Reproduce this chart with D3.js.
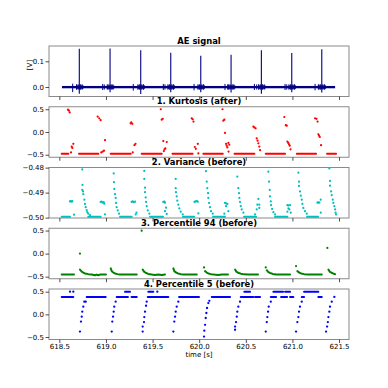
<!DOCTYPE html>
<html>
<head>
<meta charset="utf-8">
<script src="https://cdn.jsdelivr.net/npm/d3@7"></script>
<style>
body { margin: 0; background: #fff; }
</style>
</head>
<body>
<div id="chart"></div>
<script>
// ---- data ----
var timeTicks = [618.5, 619.0, 619.5, 620.0, 620.5, 621.0, 621.5];
var titles = ["AE signal", "1. Kurtosis (after)", "2. Variance (before)", "3. Percentile 94 (before)", "4. Percentile 5 (before)"];

// AE signal: baseline span, spikes, small pre-burst ticks
var aeSpan = [618.528, 621.458];
var spikeTimes = [618.714, 619.044, 619.373, 619.695, 620.017, 620.342, 620.667, 620.993, 621.315];
var spikePeaks = [0.149, 0.150, 0.143, 0.133, 0.122, 0.125, 0.143, 0.132, 0.147];
var spikeTroughs = [-0.026, -0.020, -0.027, -0.020, -0.020, -0.021, -0.026, -0.020, -0.021];
var preTicks = [[618.643, -0.020, 0.013], [618.965, -0.012, 0.012], [618.982, -0.010, 0.010],
    [619.293, -0.014, 0.012], [619.615, -0.012, 0.012], [619.633, -0.010, 0.010],
    [619.945, -0.013, 0.012], [620.277, -0.012, 0.012], [620.306, -0.010, 0.010],
    [620.592, -0.012, 0.012], [620.617, -0.010, 0.010], [620.921, -0.012, 0.012],
    [620.939, -0.010, 0.010], [621.243, -0.013, 0.012], [621.278, -0.010, 0.010]];
var burstTickOffsets = [-0.03, -0.012, 0.012, 0.03];

// 1. Kurtosis
var kurtLevel = -0.48;
var kurtRuns = [[618.525, 618.596], [618.711, 618.918], [619.051, 619.265], [619.383, 619.598],
    [619.714, 619.929], [620.044, 620.253], [620.379, 620.592], [620.714, 620.921],
    [621.047, 621.254], [621.372, 621.468]];
var kurtPoints = [
    [618.592, 0.49], [618.603, 0.47], [618.611, 0.43], [618.625, -0.45], [618.632, -0.32], [618.639, -0.35], [618.650, -0.26],
    [618.911, 0.34], [618.928, 0.30], [618.943, 0.26], [618.950, -0.45], [618.965, -0.43], [618.979, -0.41], [618.990, -0.18],
    [619.265, 0.19], [619.272, 0.21], [619.283, 0.18], [619.287, -0.45], [619.306, -0.29], [619.317, -0.26],
    [619.588, 0.50], [619.598, 0.27], [619.609, 0.29], [619.615, -0.20], [619.621, -0.42], [619.628, -0.38], [619.637, -0.36], [619.652, -0.22],
    [619.920, 0.30], [619.931, 0.28], [619.939, 0.23], [619.953, -0.33], [619.964, -0.37], [619.985, -0.26], [619.991, -0.47],
    [620.250, 0.50], [620.259, 0.25], [620.270, 0.27], [620.277, -0.02], [620.288, -0.26], [620.295, -0.30], [620.302, -0.34], [620.313, -0.24], [620.315, -0.43], [620.323, -0.28],
    [620.581, 0.12], [620.592, 0.10], [620.605, 0.08], [620.617, -0.14], [620.626, -0.19], [620.635, -0.25], [620.645, -0.32], [620.653, -0.40],
    [620.913, 0.33], [620.929, 0.15], [620.939, 0.14], [620.946, -0.21], [620.955, -0.24], [620.964, -0.27], [620.971, -0.30], [620.980, -0.38],
    [621.243, 0.30], [621.259, 0.29], [621.270, 0.23], [621.278, -0.05], [621.286, -0.08], [621.294, -0.11], [621.307, -0.29]];

// 2. Variance
var varLevel = -0.4996;
var varRuns = [[618.525, 618.614], [618.810, 618.943], [619.151, 619.276], [619.473, 619.612],
    [619.826, 619.945], [620.149, 620.277], [620.481, 620.610], [620.814, 620.946], [621.157, 621.275]];
var varPoints = [
    [618.614, -0.4935], [618.622, -0.4934], [618.632, -0.4936], [618.639, -0.4934], [618.657, -0.4988],
    [618.746, -0.4807], [618.746, -0.4889], [618.748, -0.4869], [618.754, -0.4895], [618.757, -0.4906], [618.768, -0.4928], [618.775, -0.4945], [618.783, -0.4958], [618.793, -0.4970], [618.800, -0.4978], [618.810, -0.4984], [618.829, -0.4990],
    [618.943, -0.4937], [618.954, -0.4936], [618.965, -0.4940], [618.976, -0.4938], [618.982, -0.4944], [618.990, -0.4987],
    [619.083, -0.4823], [619.086, -0.4858], [619.089, -0.4885], [619.097, -0.4906], [619.104, -0.4921], [619.108, -0.4941], [619.115, -0.4958], [619.126, -0.4971], [619.140, -0.4984],
    [619.276, -0.4937], [619.287, -0.4935], [619.298, -0.4938], [619.312, -0.4936], [619.319, -0.4987], [619.328, -0.4980],
    [619.411, -0.4813], [619.411, -0.4845], [619.419, -0.4880], [619.419, -0.4898], [619.426, -0.4919], [619.430, -0.4937], [619.437, -0.4954], [619.448, -0.4971], [619.465, -0.4984],
    [619.615, -0.4937], [619.626, -0.4936], [619.633, -0.4940], [619.644, -0.4960], [619.633, -0.4974], [619.652, -0.4985],
    [619.748, -0.4845], [619.748, -0.4882], [619.751, -0.4898], [619.759, -0.4915], [619.765, -0.4932], [619.776, -0.4948], [619.787, -0.4963], [619.802, -0.4976], [619.823, -0.4987],
    [619.950, -0.4937], [619.961, -0.4935], [619.974, -0.4934], [619.985, -0.4936], [619.991, -0.4983],
    [620.073, -0.4814], [620.081, -0.4856], [620.087, -0.4882], [620.095, -0.4902], [620.098, -0.4921], [620.106, -0.4941], [620.116, -0.4958], [620.127, -0.4974], [620.145, -0.4984],
    [620.277, -0.4941], [620.288, -0.4943], [620.302, -0.4945], [620.288, -0.4954], [620.313, -0.4974], [620.270, -0.4984],
    [620.409, -0.4836], [620.420, -0.4882], [620.427, -0.4902], [620.431, -0.4921], [620.438, -0.4937], [620.446, -0.4954], [620.456, -0.4967], [620.474, -0.4980],
    [620.635, -0.4925], [620.624, -0.4948], [620.645, -0.4948], [620.617, -0.4967], [620.645, -0.4961], [620.599, -0.4987],
    [620.742, -0.4816], [620.749, -0.4856], [620.757, -0.4889], [620.760, -0.4915], [620.768, -0.4935], [620.771, -0.4950], [620.782, -0.4965], [620.796, -0.4978], [620.814, -0.4987],
    [620.946, -0.4950], [620.957, -0.4951], [620.975, -0.4950], [620.957, -0.4963], [620.967, -0.4967], [620.946, -0.4976], [620.982, -0.4980],
    [621.064, -0.4820], [621.071, -0.4856], [621.071, -0.4873], [621.081, -0.4895], [621.090, -0.4912], [621.100, -0.4928], [621.107, -0.4945], [621.117, -0.4961], [621.135, -0.4974], [621.154, -0.4984],
    [621.268, -0.4940], [621.278, -0.4939], [621.289, -0.4940], [621.304, -0.4928], [621.304, -0.4980],
    [621.396, -0.4803], [621.403, -0.4853], [621.403, -0.4872], [621.415, -0.4895], [621.422, -0.4910], [621.433, -0.4928], [621.439, -0.4941], [621.450, -0.4954], [621.458, -0.4967], [621.463, -0.4980], [621.468, -0.4987]];

// 3. Percentile 94
var p94Curves = [
    [[618.525, -0.455], [618.657, -0.455]],
    [[618.721, -0.345], [618.740, -0.39], [618.757, -0.41], [618.775, -0.43], [618.810, -0.445], [618.847, -0.455], [618.882, -0.47], [618.900, -0.455], [618.918, -0.47], [618.936, -0.455], [619.000, -0.455]],
    [[619.051, -0.32], [619.062, -0.38], [619.079, -0.41], [619.097, -0.43], [619.122, -0.445], [619.151, -0.455], [619.330, -0.455]],
    [[619.394, -0.345], [619.408, -0.39], [619.430, -0.42], [619.454, -0.44], [619.491, -0.455], [619.526, -0.465], [619.562, -0.455], [619.598, -0.465], [619.633, -0.455]],
    [[619.723, -0.32], [619.733, -0.38], [619.751, -0.41], [619.773, -0.43], [619.802, -0.445], [619.837, -0.455], [619.974, -0.455]],
    [[620.063, -0.38], [620.081, -0.41], [620.098, -0.43], [620.127, -0.445], [620.159, -0.455], [620.202, -0.465], [620.245, -0.455], [620.309, -0.455]],
    [[620.385, -0.345], [620.399, -0.39], [620.417, -0.415], [620.446, -0.435], [620.481, -0.45], [620.524, -0.455], [620.631, -0.455]],
    [[620.725, -0.36], [620.742, -0.40], [620.760, -0.42], [620.789, -0.44], [620.825, -0.455], [620.975, -0.455]],
    [[621.053, -0.38], [621.071, -0.41], [621.093, -0.43], [621.125, -0.445], [621.168, -0.455], [621.315, -0.455]],
    [[621.386, -0.345], [621.399, -0.39], [621.415, -0.41], [621.436, -0.43], [621.458, -0.445]]];
var p94Points = [[618.721, 0.0], [619.383, 0.497], [620.052, -0.30], [620.714, -0.30], [621.039, -0.27], [621.375, 0.123]];

// 4. Percentile 5
var p5Runs = [[618.525, 618.650, 0.384], [618.793, 618.997, 0.384],
    [619.115, 619.236, 0.384], [619.274, 619.330, 0.384], [619.204, 619.258, 0.5],
    [619.448, 619.669, 0.384], [619.454, 619.508, 0.5],
    [619.784, 619.998, 0.384], [620.135, 620.331, 0.384],
    [620.446, 620.581, 0.384], [620.484, 620.546, 0.5], [620.599, 620.653, 0.384],
    [620.768, 620.825, 0.384], [620.878, 620.943, 0.384], [620.975, 621.010, 0.384], [620.796, 620.900, 0.5], [620.921, 620.975, 0.5],
    [621.100, 621.125, 0.384], [621.125, 621.278, 0.5], [621.278, 621.315, 0.384]];
var p5Points = [
    [618.614, 0.5], [618.650, 0.5],
    [618.721, -0.38], [618.732, -0.16], [618.740, -0.05], [618.746, 0.06], [618.757, 0.17], [618.768, 0.28], [618.783, 0.28],
    [619.062, -0.38], [619.068, -0.16], [619.076, -0.05], [619.083, 0.06], [619.089, 0.17], [619.104, 0.28],
    [619.394, -0.38], [619.394, -0.27], [619.408, -0.17], [619.411, -0.06], [619.419, 0.06], [619.430, 0.19], [619.437, 0.28], [619.551, 0.5],
    [619.723, -0.38], [619.733, -0.16], [619.741, -0.05], [619.748, 0.06], [619.759, 0.17], [619.776, 0.28],
    [620.052, -0.49], [620.055, -0.36], [620.063, -0.23], [620.070, -0.08], [620.077, 0.03], [620.084, 0.14], [620.098, 0.25], [620.109, 0.30],
    [620.385, -0.27], [620.385, -0.34], [620.395, -0.17], [620.403, -0.05], [620.409, 0.06], [620.420, 0.17], [620.438, 0.28],
    [620.714, -0.38], [620.725, -0.17], [620.731, -0.06], [620.739, 0.06], [620.746, 0.17], [620.768, 0.28],
    [621.039, -0.38], [621.053, -0.17], [621.064, -0.06], [621.071, 0.06], [621.081, 0.17], [621.100, 0.28],
    [621.361, -0.38], [621.372, -0.27], [621.380, -0.17], [621.386, -0.06], [621.396, 0.06], [621.403, 0.17], [621.422, 0.28], [621.450, 0.384]];

// y domains and ticks per panel
var yDomains = [[-0.037, 0.1595], [-0.555, 0.555], [-0.50015, -0.47995], [-0.545, 0.55], [-0.555, 0.56]];
var yTicks = [[0.0, 0.1], [-0.5, 0.0, 0.5], [-0.50, -0.49, -0.48], [-0.5, 0.0, 0.5], [-0.5, 0.0, 0.5]];
var yFormats = [".1f", ".1f", ".2f", ".1f", ".1f"];

// ---- layout ----
var W = 388, H = 388;
var plotLeft = 49, plotRight = 349;
var panelTop = [46, 106.75, 167.5, 228.25, 289];
var panelH = 50.5;
var font = "DejaVu Sans";

var svg = d3.select("#chart").append("svg")
    .attr("width", W)
    .attr("height", H)
    .style("font-family", font);

var x = d3.scaleLinear().domain([618.389, 621.607]).range([plotLeft, plotRight]);

var ys = [];
for (var i = 0; i < 5; i++) {
    ys.push(d3.scaleLinear().domain(yDomains[i]).range([panelTop[i] + panelH, panelTop[i]]));
}

// clip paths
var defs = svg.append("defs");
for (var i = 0; i < 5; i++) {
    defs.append("clipPath").attr("id", "clip" + i)
        .append("rect")
        .attr("x", plotLeft).attr("y", panelTop[i])
        .attr("width", plotRight - plotLeft).attr("height", panelH);
}

var panels = [];
for (var i = 0; i < 5; i++) {
    panels.push(svg.append("g").attr("clip-path", "url(#clip" + i + ")"));
}

function drawDots(g, data, y, color, r) {
    g.selectAll(null).data(data).enter().append("circle")
        .attr("cx", function(d) { return x(d[0]); })
        .attr("cy", function(d) { return y(d[1]); })
        .attr("r", r)
        .attr("fill", color);
}

function drawRuns(g, data, y, color, level) {
    g.selectAll(null).data(data).enter().append("line")
        .attr("x1", function(d) { return x(d[0]); })
        .attr("x2", function(d) { return x(d[1]); })
        .attr("y1", function(d) { return y(level !== undefined ? level : d[2]); })
        .attr("y2", function(d) { return y(level !== undefined ? level : d[2]); })
        .attr("stroke", color)
        .attr("stroke-width", 2)
        .attr("stroke-linecap", "round");
}

// ---- AE signal ----
var navy = "#000080";
var g0 = panels[0], y0 = ys[0];
g0.append("rect")
    .attr("x", x(aeSpan[0]))
    .attr("width", x(aeSpan[1]) - x(aeSpan[0]))
    .attr("y", y0(0.004))
    .attr("height", y0(-0.005) - y0(0.004))
    .attr("fill", navy);
// thicker noise around each burst
g0.selectAll(null).data(spikeTimes).enter().append("rect")
    .attr("x", function(d) { return x(d - 0.035); })
    .attr("width", function(d) { return x(d + 0.045) - x(d - 0.035); })
    .attr("y", y0(0.007))
    .attr("height", y0(-0.008) - y0(0.007))
    .attr("fill", navy)
    .attr("opacity", 0.75);
spikeTimes.forEach(function(t) {
    burstTickOffsets.forEach(function(o) {
        g0.append("line")
            .attr("x1", x(t + o)).attr("x2", x(t + o))
            .attr("y1", y0(0.011)).attr("y2", y0(-0.011))
            .attr("stroke", navy).attr("stroke-width", 0.9);
    });
});
g0.selectAll(null).data(preTicks).enter().append("line")
    .attr("x1", function(d) { return x(d[0]); })
    .attr("x2", function(d) { return x(d[0]); })
    .attr("y1", function(d) { return y0(d[1]); })
    .attr("y2", function(d) { return y0(d[2]); })
    .attr("stroke", navy).attr("stroke-width", 1);
g0.selectAll(null).data(spikeTimes).enter().append("line")
    .attr("x1", function(d) { return x(d); })
    .attr("x2", function(d) { return x(d); })
    .attr("y1", function(d, i) { return y0(spikeTroughs[i]); })
    .attr("y2", function(d, i) { return y0(spikePeaks[i]); })
    .attr("stroke", navy).attr("stroke-width", 1.1);

// ---- Kurtosis ----
drawRuns(panels[1], kurtRuns, ys[1], "#ff0000", kurtLevel);
drawDots(panels[1], kurtPoints, ys[1], "#ff0000", 1.1);

// ---- Variance ----
drawRuns(panels[2], varRuns, ys[2], "#00bfbf", varLevel);
drawDots(panels[2], varPoints, ys[2], "#00bfbf", 1.1);

// ---- Percentile 94 ----
var line94 = d3.line()
    .x(function(d) { return x(d[0]); })
    .y(function(d) { return ys[3](d[1]); });
panels[3].selectAll(null).data(p94Curves).enter().append("path")
    .attr("d", line94)
    .attr("fill", "none")
    .attr("stroke", "#008000")
    .attr("stroke-width", 2)
    .attr("stroke-linecap", "round")
    .attr("stroke-linejoin", "round");
drawDots(panels[3], p94Points, ys[3], "#008000", 1.1);

// ---- Percentile 5 ----
drawRuns(panels[4], p5Runs, ys[4], "#0000ff");
drawDots(panels[4], p5Points, ys[4], "#0000ff", 1.15);

// ---- frames, axes, titles ----
for (var i = 0; i < 5; i++) {
    var pTop = panelTop[i];
    svg.append("rect")
        .attr("x", plotLeft).attr("y", pTop)
        .attr("width", plotRight - plotLeft).attr("height", panelH)
        .attr("fill", "none")
        .attr("stroke", "#8a8a8a")
        .attr("stroke-width", 1);

    var ya = svg.append("g")
        .attr("transform", "translate(" + plotLeft + ",0)")
        .call(d3.axisLeft(ys[i]).tickValues(yTicks[i]).tickSize(3.5).tickPadding(1.5)
            .tickFormat(d3.format(yFormats[i])));
    ya.select(".domain").remove();

    var xa = svg.append("g")
        .attr("transform", "translate(0," + (pTop + panelH) + ")")
        .call(d3.axisBottom(x).tickValues(timeTicks).tickSize(3.5).tickPadding(1)
            .tickFormat(i == 4 ? d3.format(".1f") : ""));
    xa.select(".domain").remove();

    [ya, xa].forEach(function(a) {
        a.selectAll("text").attr("font-size", "7px").attr("font-family", font).attr("fill", "#000");
        a.selectAll("line").attr("stroke", "#222").attr("stroke-width", 0.8);
    });

    svg.append("text")
        .attr("x", (plotLeft + plotRight) / 2)
        .attr("y", pTop - 2.5)
        .attr("text-anchor", "middle")
        .attr("font-weight", "bold")
        .attr("font-size", "8.4px")
        .text(titles[i]);
}

svg.append("text")
    .attr("transform", "translate(31.5,65) rotate(-90)")
    .attr("text-anchor", "middle")
    .attr("font-size", "7px")
    .text("[V]");

svg.append("text")
    .attr("x", (plotLeft + plotRight) / 2)
    .attr("y", 357)
    .attr("text-anchor", "middle")
    .attr("font-size", "7px")
    .text("time [s]");
</script>
</body>
</html>
